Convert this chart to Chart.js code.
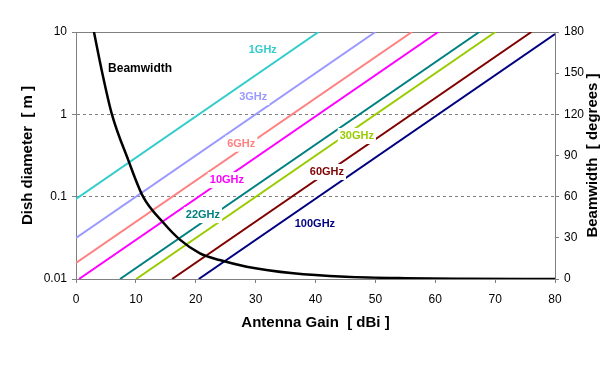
<!DOCTYPE html>
<html>
<head>
<meta charset="utf-8">
<script src="https://cdn.jsdelivr.net/npm/chart.js@4/dist/chart.umd.min.js"></script>
<style>
  html, body { margin: 0; padding: 0; background: #fff; }
  #wrap { width: 609px; height: 374px; }
</style>
</head>
<body>
<div id="wrap"><canvas id="grafica" width="609" height="374"></canvas></div>
<script>
// lineas de diametro (ganancia dBi, diametro m) - extremos
const frecuencias = ["1GHz", "3GHz", "6GHz", "10GHz", "22GHz", "30GHz", "60GHz", "100GHz"];
const gananciaInicio = [0, 0, 0, 0.5, 7.35, 10.05, 16.05, 20.5];
const diametroInicio = [0.094, 0.0315, 0.0157, 0.01, 0.01, 0.01, 0.01, 0.01];
const gananciaFin = [40.5, 50.0, 56.1, 60.5, 67.35, 70.05, 76.05, 80];
const diametroFin = [10, 10, 10, 10, 10, 10, 10, 9.44];

// ancho de haz (grados)
const gananciaHaz = [3.0, 4.3, 6.0, 8.7, 11.2, 14.6, 17.4, 20.7, 24.0, 28.5, 36.3, 45, 55, 65, 80];
const anchoHaz = [180, 152, 120, 87, 60, 41, 28.5, 18.7, 13.8, 9.0, 4.2, 1.7, 0.6, 0.2, 0];

const ticksDiametro = [0.01, 0.1, 1, 10];
const etiquetasDiametro = ["0.01", "0.1", "1", "10"];

const colores = ["#33CCCC", "#9999FF", "#FF8080", "#FF00FF", "#008080", "#99CC00", "#800000", "#000080"];

// posicion de las etiquetas (en unidades de datos)
const etiquetaX = [31.2, 29.6, 27.6, 25.2, 21.2, 46.9, 41.9, 39.9];
const etiquetaY = [6.0, 1.62, 0.44, 0.159, 0.0598, 0.546, 0.1995, 0.0466];

const fuente = "'Liberation Sans', Arial, sans-serif";

const datasets = [{
    label: "Beamwidth",
    data: gananciaHaz.map((g, i) => ({ x: g, y: anchoHaz[i] })),
    yAxisID: "y2",
    borderColor: "#000",
    borderWidth: 2.5,
    pointRadius: 0,
    cubicInterpolationMode: "monotone",
    order: 0
}];
frecuencias.forEach((f, i) => {
    datasets.push({
        label: f,
        data: [{ x: gananciaInicio[i], y: diametroInicio[i] }, { x: gananciaFin[i], y: diametroFin[i] }],
        yAxisID: "y",
        borderColor: colores[i],
        borderWidth: 2,
        pointRadius: 0,
        order: 1
    });
});

const etiquetasPlugin = {
    id: "etiquetas",
    afterDatasetsDraw(chart) {
        const { ctx, scales } = chart;
        ctx.save();
        ctx.font = "bold 11px " + fuente;
        ctx.textAlign = "center";
        ctx.textBaseline = "middle";
        frecuencias.forEach((f, i) => {
            const px = scales.x.getPixelForValue(etiquetaX[i]);
            const py = scales.y.getPixelForValue(etiquetaY[i]);
            const w = ctx.measureText(f).width;
            ctx.fillStyle = "#fff";
            ctx.fillRect(px - w / 2 - 2, py - 8, w + 4, 16);
            ctx.fillStyle = colores[i];
            ctx.fillText(f, px, py);
        });
        // etiqueta de la curva
        const bx = scales.x.getPixelForValue(10.7);
        const by = scales.y.getPixelForValue(3.56);
        ctx.fillStyle = "#000";
        ctx.font = "bold 12px " + fuente;
        ctx.fillText("Beamwidth", bx, by);
        // titulo del eje derecho (leido de abajo hacia arriba)
        const s = scales.y2;
        ctx.translate(593, (s.top + s.bottom) / 2);
        ctx.rotate(-Math.PI / 2);
        ctx.font = "bold 15px " + fuente;
        ctx.fillText("Beamwidth  [ degrees ]", 0, 0);
        ctx.restore();
    }
};

new Chart(document.querySelector("#grafica"), {
    type: "line",
    data: { datasets },
    plugins: [etiquetasPlugin],
    options: {
        responsive: false,
        animation: false,
        layout: { padding: { top: 32, bottom: 40, left: 0, right: 0 } },
        plugins: { legend: { display: false }, tooltip: { enabled: false } },
        scales: {
            x: {
                type: "linear",
                min: 0, max: 80,
                afterFit(s) { s.height = 55; },
                ticks: { stepSize: 10, color: "#000", font: { family: fuente, size: 12 }, padding: 9 },
                grid: { drawOnChartArea: false, tickLength: 4, tickColor: "#808080" },
                border: { color: "#808080" },
                title: { display: true, text: "Antenna Gain  [ dBi ]", color: "#000",
                         font: { family: fuente, size: 15, weight: "bold" }, padding: { top: 0, bottom: 2 } }
            },
            y: {
                type: "logarithmic",
                position: "left",
                min: 0.01, max: 10,
                afterFit(s) { s.width = 76; },
                afterBuildTicks(s) { s.ticks = ticksDiametro.map(v => ({ value: v })); },
                ticks: {
                    color: "#000", font: { family: fuente, size: 12 }, padding: 5,
                    callback: v => etiquetasDiametro[ticksDiametro.indexOf(v)]
                },
                grid: {
                    tickLength: 4, tickColor: "#808080",
                    color: c => (c.tick && (c.tick.value === 1 || c.tick.value === 0.1 || c.tick.value === 10)) ? "#808080" : "rgba(0,0,0,0)"
                },
                border: {
                    color: "#808080",
                    dash: c => (c.tick && c.tick.value === 10) ? [] : [3, 3]
                },
                title: { display: true, text: "Dish diameter  [ m ]", color: "#000",
                         font: { family: fuente, size: 15, weight: "bold" }, padding: { top: 19, bottom: 0 } }
            },
            y2: {
                type: "linear",
                position: "right",
                min: 0, max: 180,
                afterFit(s) { s.width = 54; },
                ticks: { stepSize: 30, color: "#000", font: { family: fuente, size: 12 }, padding: 5 },
                grid: { drawOnChartArea: false, tickLength: 4, tickColor: "#808080" },
                border: { color: "#808080" }
            }
        }
    }
});
</script>
</body>
</html>
